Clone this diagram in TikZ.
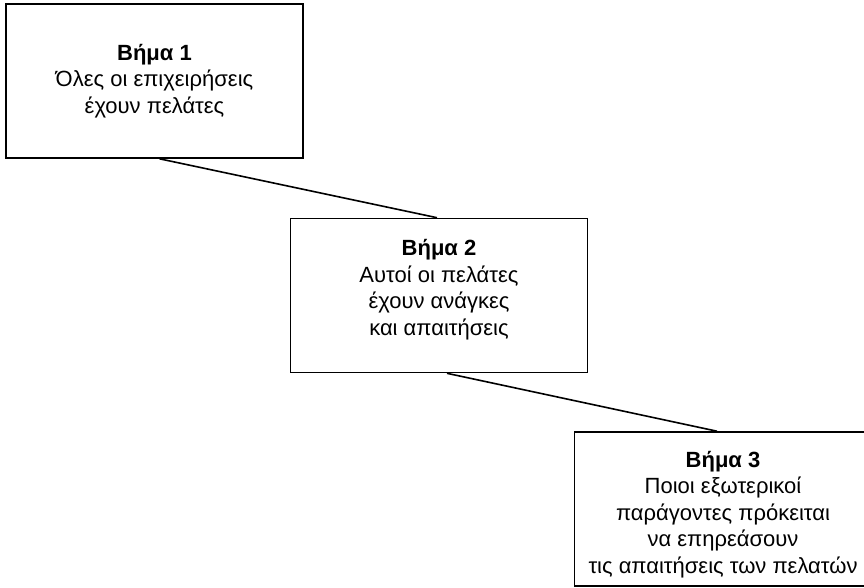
\documentclass[tikz,border=0pt]{standalone}
\usepackage{fontspec}
\setmainfont{Liberation Sans}
\begin{document}
\begin{tikzpicture}[x=1pt,y=-1pt,
stagebox/.style={rectangle, draw=black, fill=white, line width=1.6pt, inner sep=1pt, minimum width=297pt, minimum height=154pt, align=center, font=\fontsize{22}{26.5}\selectfont},
link/.style={line width=1.6pt},
]
\useasboundingbox (0,0) rectangle (864,587);
\node[stagebox] (stage1) at (154.5,81) {\textbf{Βήμα 1}\\Όλες οι επιχειρήσεις\\έχουν πελάτες};
\node[stagebox] (stage2) at (439,295.5) {\textbf{Βήμα 2}\\Αυτοί οι πελάτες\\έχουν ανάγκες\\και απαιτήσεις\\[-10pt]};
\node[stagebox] (stage3) at (723,509) {\mbox{}\\[1pt]\textbf{Βήμα 3}\\Ποιοι εξωτερικοί\\παράγοντες πρόκειται\\να επηρεάσουν\\τις απαιτήσεις των πελατών};
\draw[link] ([xshift=5pt]stage1.south) -- ([xshift=-2pt]stage2.north);
\draw[link] ([xshift=8pt]stage2.south) -- ([xshift=-6pt]stage3.north);
\end{tikzpicture}
\end{document}
